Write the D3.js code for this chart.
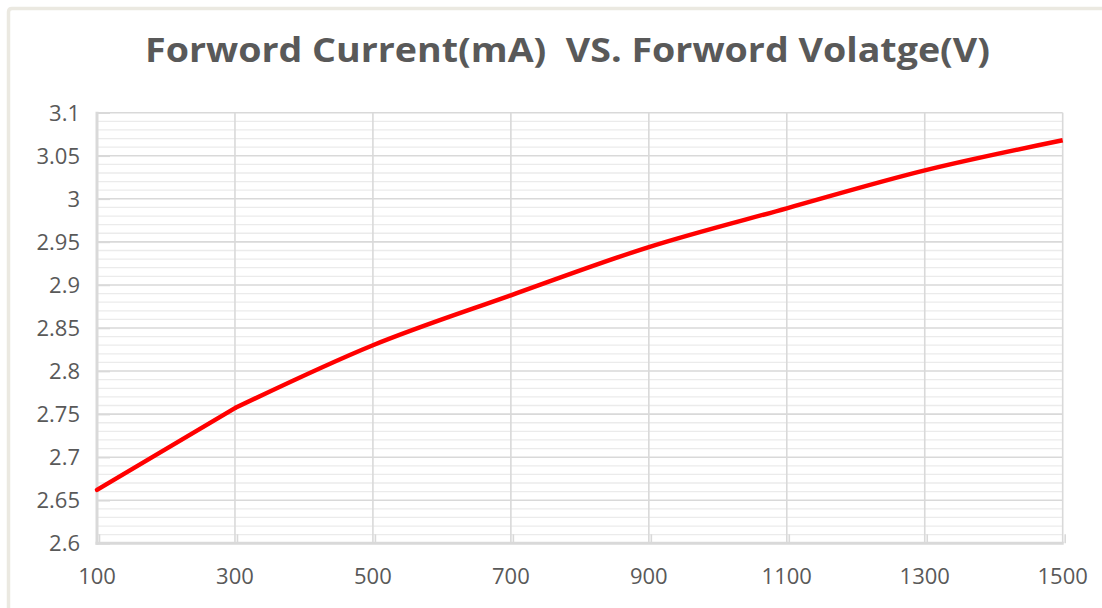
<!DOCTYPE html>
<html>
<head>
<meta charset="utf-8">
<script src="https://cdn.jsdelivr.net/npm/d3@7"></script>
<style>
  html, body { margin: 0; padding: 0; background: #ffffff; }
  svg { display: block; }
</style>
</head>
<body>
<svg id="chart" width="1102" height="608"></svg>
<script>
// ---- data ----
const titleText = "Forword Current(mA)  VS. Forword Volatge(V)";
const currents = [100, 300, 500, 700, 900, 1100, 1300, 1500];
const voltages = [2.662, 2.757, 2.830, 2.888, 2.944, 2.989, 3.033, 3.068];
const xTicks = [100, 300, 500, 700, 900, 1100, 1300, 1500];
const yTicks = [2.6, 2.65, 2.7, 2.75, 2.8, 2.85, 2.9, 2.95, 3, 3.05, 3.1];
const yMinorStep = 0.01;

const svg = d3.select("#chart");
const W = 1102, H = 608;
const margin = { left: 97, right: 1102 - 1062.7, top: 112.7, bottom: 608 - 543.3 };

// outer frame (beige border of the chart box)
svg.append("path")
  .attr("d", `M8.5,${H + 2} L8.5,12 Q8.5,8.5 12,8.5 L${W + 2},8.5`)
  .attr("fill", "none").attr("stroke", "#ebe9e1").attr("stroke-width", 3.5);

const x = d3.scaleLinear().domain([100, 1500]).range([margin.left, W - margin.right]);
const y = d3.scaleLinear().domain([2.6, 3.1]).range([H - margin.bottom, margin.top]);

const font = "'Open Sans', 'Noto Sans', sans-serif";

// minor horizontal grid
const minor = d3.range(0, 51).map(i => +(2.6 + i * yMinorStep).toFixed(2))
  .filter(v => !yTicks.some(t => Math.abs(t - v) < 1e-9));
svg.append("g").selectAll("line").data(minor).join("line")
  .attr("x1", x(100)).attr("x2", x(1500))
  .attr("y1", d => y(d)).attr("y2", d => y(d))
  .attr("stroke", "#ebebeb").attr("stroke-width", 1.3);

// major horizontal grid
svg.append("g").selectAll("line").data(yTicks.filter(t => t > 2.6)).join("line")
  .attr("x1", x(100)).attr("x2", x(1500))
  .attr("y1", d => y(d)).attr("y2", d => y(d))
  .attr("stroke", "#d9d9d9").attr("stroke-width", 1.6);

// major vertical grid
svg.append("g").selectAll("line").data(xTicks.filter(t => t > 100)).join("line")
  .attr("x1", d => x(d)).attr("x2", d => x(d))
  .attr("y1", y(3.1)).attr("y2", y(2.6))
  .attr("stroke", "#d9d9d9").attr("stroke-width", 1.6);

// axes via d3 axis generators (inner ticks)
const yAxis = svg.append("g").attr("transform", `translate(${x(100)},0)`)
  .call(d3.axisRight(y).tickValues(yTicks).tickSize(13).tickFormat(""));
yAxis.select(".domain").remove();
yAxis.selectAll(".tick line").attr("stroke", "#d9d9d9").attr("stroke-width", 1.6);

const xAxis = svg.append("g").attr("transform", `translate(0,${y(2.6)})`)
  .call(d3.axisTop(x).tickValues(xTicks).tickSize(9).tickFormat(""));
xAxis.select(".domain").remove();
xAxis.selectAll(".tick line").attr("stroke", "#d9d9d9").attr("stroke-width", 1.6)
  .attr("transform", "translate(2,0)");

// axis lines
svg.append("line").attr("x1", x(100)).attr("x2", x(100))
  .attr("y1", y(3.1) - 1).attr("y2", y(2.6) + 1.5)
  .attr("stroke", "#d9d9d9").attr("stroke-width", 3);
svg.append("line").attr("x1", x(100) - 1.5).attr("x2", x(1500) + 1)
  .attr("y1", y(2.6)).attr("y2", y(2.6))
  .attr("stroke", "#d9d9d9").attr("stroke-width", 3);

// tick labels
svg.append("g").selectAll("text").data(yTicks).join("text")
  .attr("x", 80).attr("y", d => y(d))
  .attr("dy", "0.36em")
  .attr("text-anchor", "end")
  .attr("font-family", font).attr("font-size", 22)
  .attr("fill", "#595959")
  .text(d => d3.format("")(d));

svg.append("g").selectAll("text").data(xTicks).join("text")
  .attr("x", d => x(d)).attr("y", 584)
  .attr("text-anchor", "middle")
  .attr("font-family", font).attr("font-size", 22)
  .attr("fill", "#595959")
  .text(d => d);

// line: straight first segment, smooth afterwards (kink at 300 as in the reference)
const pts = currents.map((c, i) => [c, voltages[i]]);
const lineStraight = d3.line().x(d => x(d[0])).y(d => y(d[1]));
const lineSmooth = d3.line().x(d => x(d[0])).y(d => y(d[1])).curve(d3.curveMonotoneX);
const g = svg.append("g").attr("fill", "none").attr("stroke", "#ff0000")
  .attr("stroke-width", 4.5).attr("stroke-linejoin", "round");
g.append("path").datum(pts.slice(0, 2)).attr("stroke-linecap", "round")
  .attr("d", lineStraight);
g.append("path").datum(pts.slice(1)).attr("stroke-linecap", "butt")
  .attr("d", lineSmooth);

// title
svg.append("text")
  .attr("x", 567.5).attr("y", 62)
  .attr("text-anchor", "middle")
  .attr("font-family", font).attr("font-size", 34).attr("font-weight", "bold")
  .attr("fill", "#595959")
  .attr("xml:space", "preserve")
  .attr("textLength", 845).attr("lengthAdjust", "spacingAndGlyphs")
  .text(titleText);
</script>
</body>
</html>
